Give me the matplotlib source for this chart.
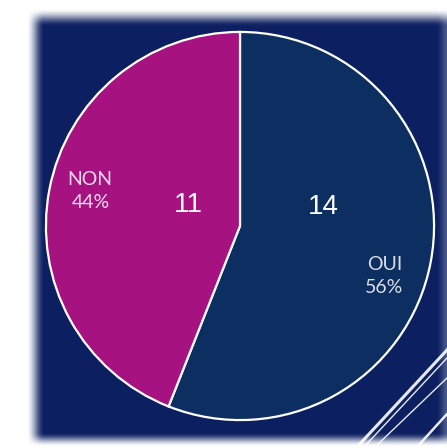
import numpy as np
import matplotlib
matplotlib.use("Agg")
from matplotlib import pyplot as plt
from matplotlib.lines import Line2D

# données
labels = ["OUI", "NON"]
values = [14, 11]
colors = ["#0c2e60", "#a6127f"]

W, H = 447, 448
NAVY = np.array([12, 31, 96]) / 255.0


def ramp(v, a, b):
    t = np.clip((v - a) / (b - a), 0, 1)
    return t * t * (3 - 2 * t)


fig = plt.figure(figsize=(W / 100, H / 100), dpi=100)
fig.patch.set_facecolor("white")

# fond bleu aux bords flous
bg = fig.add_axes([0, 0, 1, 1])
yy, xx = np.mgrid[0:H, 0:W]
alpha = ramp(xx, 26, 44) * ramp(yy, 8, 26) * (1 - ramp(yy, 432, 446)) * (1 - 0.25 * ramp(xx, 436, 447))
img = np.zeros((H, W, 4))
img[..., :3] = NAVY
img[..., 3] = alpha
bg.imshow(img, extent=(0, W, H, 0), interpolation="bilinear")
bg.set_xlim(0, W)
bg.set_ylim(H, 0)
bg.axis("off")

# lignes décoratives
for (x0, y0, x1, y1, lw) in [(357, 447, 447, 350, 2.2), (364, 447, 447, 358, 1.0),
                             (375, 447, 447, 378, 1.0), (417, 447, 447, 414, 1.8)]:
    bg.add_line(Line2D([x0, x1], [y0, y1], color="white", lw=lw, alpha=0.9))

# camembert
cx, cy, r = 240, 226, 196
ax = fig.add_axes([(cx - r) / W, (H - cy - r) / H, 2 * r / W, 2 * r / H])
ax.pie(values, colors=colors, startangle=90, counterclock=False,
       wedgeprops=dict(edgecolor="white", linewidth=1.6))
ax.set_xlim(-1.01, 1.01)
ax.set_ylim(-1.01, 1.01)
ax.set_aspect("equal")
ax.axis("off")

total = sum(values)
pcts = [f"{round(v * 100 / total)}%" for v in values]

lab_font = "Lato"
num_font = "Liberation Sans"
lab_kw = dict(color="white", alpha=0.85, fontsize=14, family=lab_font, ha="center", va="center")
num_kw = dict(color="white", fontsize=20, family=num_font, ha="center", va="center")

# valeurs
ax.text(0.43, 0.10, str(values[0]), **num_kw)
ax.text(-0.265, 0.107, str(values[1]), **num_kw)
# étiquettes
ax.text(0.745, -0.199, labels[0], **lab_kw)
ax.text(0.74, -0.316, pcts[0], **lab_kw)
ax.text(-0.776, 0.24, labels[1], **lab_kw)
ax.text(-0.77, 0.122, pcts[1], **lab_kw)

fig.savefig("out.png", dpi=100)
